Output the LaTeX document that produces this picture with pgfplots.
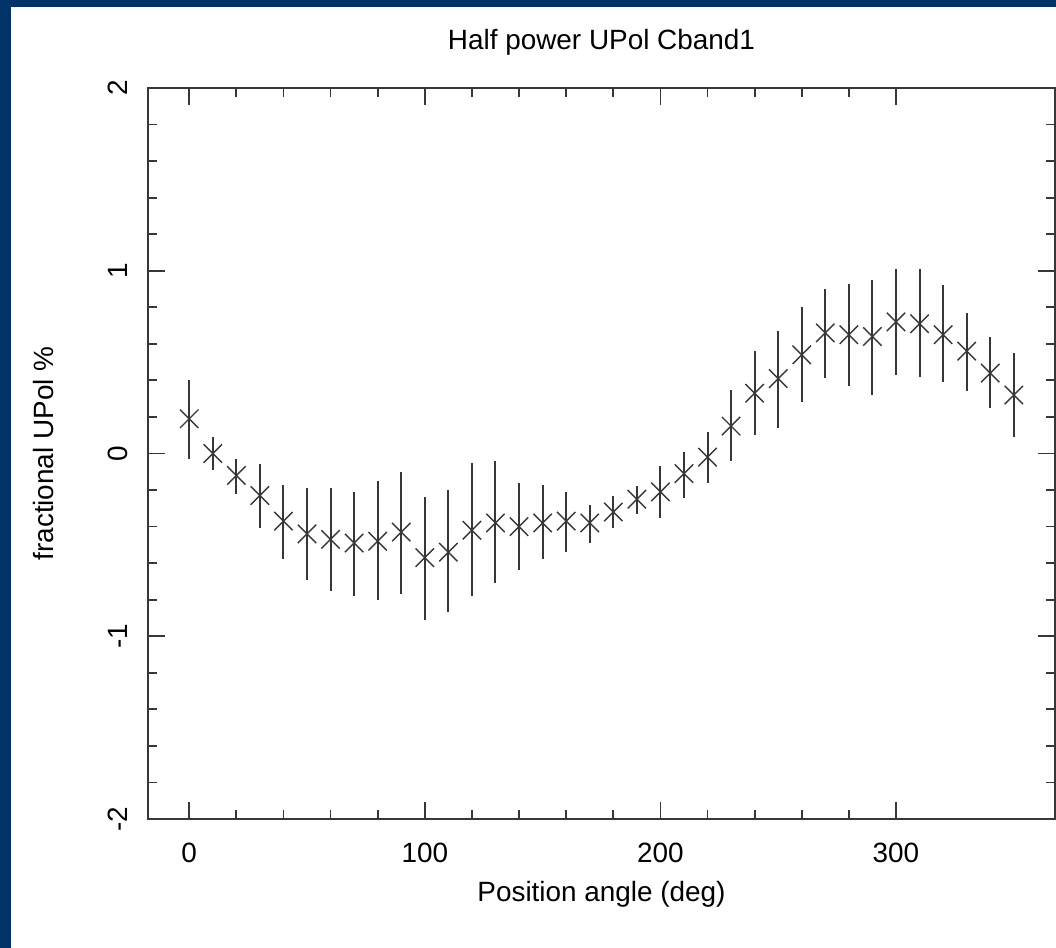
\documentclass[border=0pt]{standalone}
\usepackage{fontspec}
\setmainfont{Liberation Sans}
\usepackage{pgfplots}
\pgfplotsset{compat=1.18}
\usepackage{pgfplotstable}
\definecolor{frameblue}{RGB}{0,52,102}
\definecolor{ink}{RGB}{55,55,55}

\pgfplotstableread{
x y ep em
0 0.19 0.21 0.22
10 0.00 0.09 0.09
20 -0.12 0.09 0.10
30 -0.23 0.17 0.18
40 -0.37 0.20 0.21
50 -0.44 0.25 0.25
60 -0.47 0.28 0.28
70 -0.49 0.28 0.29
80 -0.48 0.33 0.32
90 -0.43 0.33 0.34
100 -0.57 0.33 0.34
110 -0.54 0.34 0.33
120 -0.42 0.37 0.36
130 -0.38 0.34 0.33
140 -0.40 0.24 0.24
150 -0.38 0.21 0.20
160 -0.37 0.16 0.17
170 -0.38 0.10 0.11
180 -0.32 0.09 0.09
190 -0.25 0.07 0.08
200 -0.21 0.14 0.145
210 -0.11 0.12 0.135
220 -0.02 0.14 0.14
230 0.15 0.20 0.19
240 0.33 0.23 0.23
250 0.41 0.26 0.27
260 0.54 0.26 0.26
270 0.66 0.24 0.245
280 0.65 0.28 0.28
290 0.64 0.31 0.32
300 0.72 0.29 0.29
310 0.71 0.30 0.29
320 0.65 0.27 0.26
330 0.56 0.21 0.22
340 0.44 0.20 0.19
350 0.32 0.23 0.23
}\datatable

\begin{document}
\begin{tikzpicture}
\useasboundingbox (0,0) rectangle (1056bp,948bp);
\fill[frameblue] (0,0) rectangle (1056bp,948bp);
\fill[white] (11bp,0) rectangle (1056bp,941bp);
\begin{axis}[
  at={(148bp,129bp)}, anchor=south west,
  scale only axis, width=907bp, height=731bp,
  xmin=-17.5, xmax=367.5, ymin=-2, ymax=2,
  xtick={0,100,200,300}, xticklabels={0,100,200,300},
  ytick={-2,-1,0,1,2}, yticklabels={-2,-1,0,1,2},
  minor x tick num=4, minor y tick num=4,
  tick pos=both, tick align=inside,
  major tick length=17bp, minor tick length=9bp,
  axis line style={ink, line width=1.8bp},
  every tick/.style={ink, line width=1.8bp},
  every minor tick/.style={ink, line width=1.8bp},
  font=\fontsize{28}{34}\selectfont,
  xticklabel style={anchor=north, inner sep=0pt, yshift=-24bp},
  yticklabel style={rotate=90, anchor=south, inner sep=0pt},
  yticklabel shift=20bp,
  title={Half power UPol Cband1},
  title style={at={(axis description cs:0.5,1.0451)}, anchor=base, inner sep=0pt},
  xlabel={Position angle (deg)},
  xlabel style={at={(axis description cs:0.5,-0.1135)}, anchor=base, inner sep=0pt},
  ylabel={fractional UPol \%},
  ylabel style={at={(axis description cs:-0.1047,0.5)}, anchor=base, inner sep=0pt, rotate=0},
  clip=false,
]
\addplot[only marks, mark=x, mark size=13bp, ink, line width=1.4bp,
  error bars/.cd, y dir=both, y explicit,
  error mark=none,
  error bar style={ink, line width=2bp}]
  table[x=x, y=y, y error plus=ep, y error minus=em] {\datatable};
\end{axis}
\end{tikzpicture}
\end{document}
